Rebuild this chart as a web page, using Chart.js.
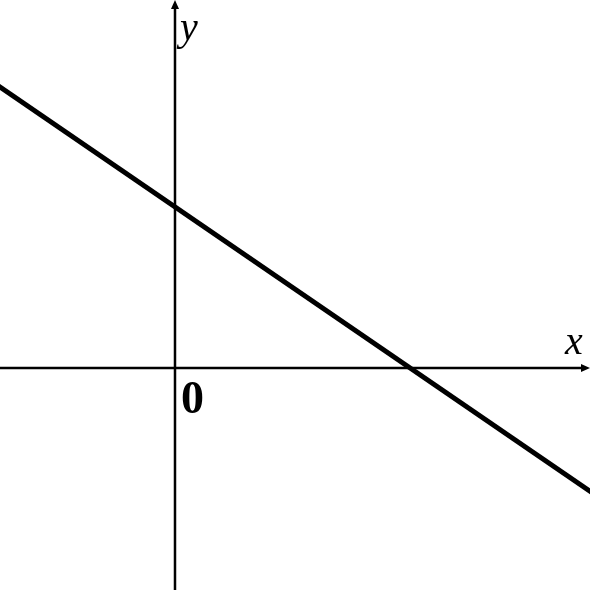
<!DOCTYPE html>
<html>
<head>
<meta charset="utf-8">
<script src="https://cdn.jsdelivr.net/npm/chart.js@4/dist/chart.umd.min.js"></script>
<style>
  html, body { margin: 0; padding: 0; background: #fff; }
  #graph { display: block; }
</style>
</head>
<body>
<canvas id="graph" width="590" height="590"></canvas>
<script>
// line y = 2 - 2/3 x, given by two points on it (clipped to the plot)
var lineX = [-3, 6];
var lineY = [4, -2];
// visible window of the plane
var xRange = [-2.234, 5.298];
var yRange = [-2.758, 4.571];
var axisLabels = ["x", "y"];
var originLabel = "0";

var axesPlugin = {
    id: 'axes',
    beforeDatasetsDraw: function (chart) {
        var c = chart.ctx;
        var sx = chart.scales.x, sy = chart.scales.y;
        var x0 = sx.getPixelForValue(0), y0 = sy.getPixelForValue(0);
        var a = chart.chartArea;
        c.save();
        c.strokeStyle = '#000';
        c.fillStyle = '#000';
        c.lineWidth = 2.5;
        c.beginPath();
        c.moveTo(a.left, y0); c.lineTo(a.right - 6, y0);
        c.moveTo(x0, a.bottom); c.lineTo(x0, a.top + 6);
        c.stroke();
        // arrow heads
        c.beginPath();
        c.moveTo(a.right, y0); c.lineTo(a.right - 9, y0 - 4); c.lineTo(a.right - 9, y0 + 4);
        c.closePath(); c.fill();
        c.beginPath();
        c.moveTo(x0, a.top); c.lineTo(x0 - 4, a.top + 9); c.lineTo(x0 + 4, a.top + 9);
        c.closePath(); c.fill();
        c.restore();
    },
    afterDatasetsDraw: function (chart) {
        var c = chart.ctx;
        var sx = chart.scales.x, sy = chart.scales.y;
        var x0 = sx.getPixelForValue(0), y0 = sy.getPixelForValue(0);
        var a = chart.chartArea;
        c.save();
        c.fillStyle = '#000';
        c.textAlign = 'left';
        c.textBaseline = 'alphabetic';
        c.font = 'italic 40px "Liberation Serif"';
        c.fillText(axisLabels[0], a.right - 25, y0 - 14);
        c.fillText(axisLabels[1], x0 + 5, a.top + 40);
        c.font = 'bold 46px "Liberation Serif"';
        c.fillText(originLabel, x0 + 6, y0 + 45);
        c.restore();
    }
};

var chart = new Chart(document.getElementById('graph').getContext('2d'), {
    type: 'scatter',
    data: {
        datasets: [{
            data: lineX.map(function (v, i) { return { x: v, y: lineY[i] }; }),
            showLine: true,
            borderColor: '#000',
            borderWidth: 5,
            pointRadius: 0,
            pointHoverRadius: 0,
            tension: 0
        }]
    },
    options: {
        responsive: false,
        animation: false,
        devicePixelRatio: 1,
        layout: { padding: 0 },
        events: [],
        plugins: {
            legend: { display: false },
            tooltip: { enabled: false }
        },
        scales: {
            x: { type: 'linear', display: false, min: xRange[0], max: xRange[1] },
            y: { type: 'linear', display: false, min: yRange[0], max: yRange[1] }
        }
    },
    plugins: [axesPlugin]
});
</script>
</body>
</html>
